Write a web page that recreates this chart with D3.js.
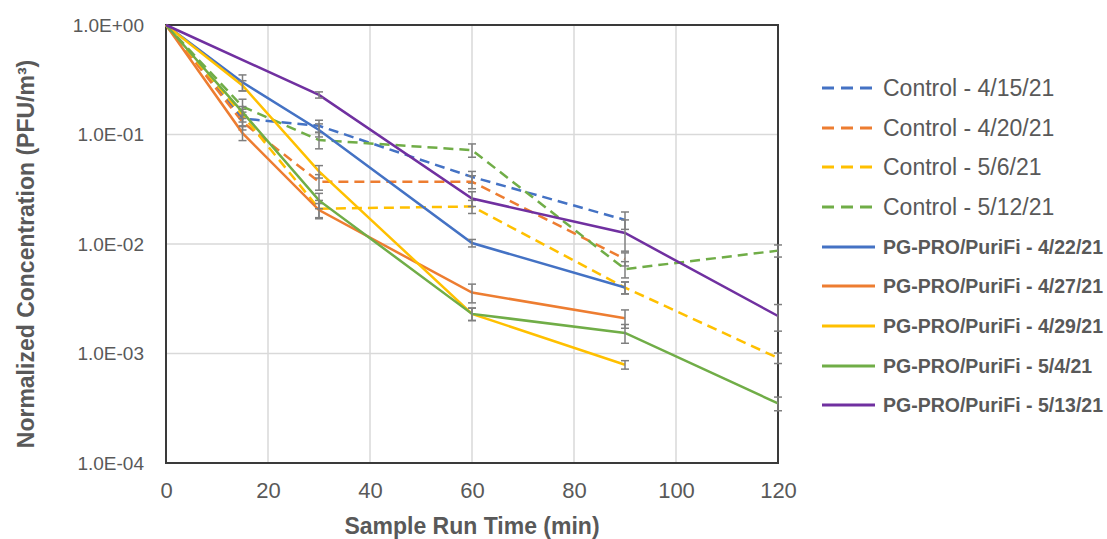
<!DOCTYPE html>
<html>
<head>
<meta charset="utf-8">
<script src="https://cdn.jsdelivr.net/npm/d3@7"></script>
<style>
  html, body { margin: 0; padding: 0; background: #ffffff; }
  svg { display: block; font-family: "Liberation Sans", Arial, sans-serif; }
</style>
</head>
<body>
<svg id="chart" width="1107" height="539"></svg>
<script>
// ---- data ----
const times = [0, 15, 30, 60, 90, 120];
const xTicks = [0, 20, 40, 60, 80, 100, 120];
const yTicks = [1, 0.1, 0.01, 0.001, 0.0001];
const yTickLabels = ["1.0E+00", "1.0E-01", "1.0E-02", "1.0E-03", "1.0E-04"];

const seriesNames = [
  "Control - 4/15/21", "Control - 4/20/21", "Control - 5/6/21", "Control - 5/12/21",
  "PG-PRO/PuriFi - 4/22/21", "PG-PRO/PuriFi - 4/27/21", "PG-PRO/PuriFi - 4/29/21",
  "PG-PRO/PuriFi - 5/4/21", "PG-PRO/PuriFi - 5/13/21"
];
const seriesColors = ["#4472C4", "#ED7D31", "#FFC000", "#70AD47", "#4472C4", "#ED7D31", "#FFC000", "#70AD47", "#7030A0"];
const seriesDashed = [true, true, true, true, false, false, false, false, false];

const ctrl0415 = [1, 0.14, 0.12, 0.041, 0.0166, null];
const ctrl0420 = [1, 0.13, 0.037, 0.037, 0.0073, null];
const ctrl0506 = [1, 0.15, 0.021, 0.022, 0.0040, 0.00091];
const ctrl0512 = [1, 0.18, 0.089, 0.072, 0.0059, 0.0087];
const pg0422 = [1, 0.30, 0.11, 0.0102, 0.0040, null];
const pg0427 = [1, 0.103, 0.0204, 0.0036, 0.0021, null];
const pg0429 = [1, 0.28, 0.046, 0.0023, 0.00079, null];
const pg0504 = [1, 0.16, 0.025, 0.0023, 0.00154, 0.00035];
const pg0513 = [1, null, 0.23, 0.026, 0.0126, 0.0022];

const err0415 = [0, 0.02, 0.015, 0.005, 0.003, null];
const err0420 = [0, 0.02, 0.006, 0.005, 0.001, null];
const err0506 = [0, 0.02, 0.004, 0.003, 0.0005, 0.0001];
const err0512 = [0, 0.03, 0.015, 0.01, 0.001, 0.0011];
const errPg0422 = [0, 0.05, 0.015, 0.0008, 0.0005, null];
const errPg0427 = [0, 0.015, 0.003, 0.0007, 0.0004, null];
const errPg0429 = [0, 0.03, 0.006, 0.0003, 0.00007, null];
const errPg0504 = [0, 0.02, 0.004, 0.0003, 0.0003, 0.00005];
const errPg0513 = [0, null, 0.015, 0.004, 0.004, 0.0006];

const seriesValues = [ctrl0415, ctrl0420, ctrl0506, ctrl0512, pg0422, pg0427, pg0429, pg0504, pg0513];
const seriesErrors = [err0415, err0420, err0506, err0512, errPg0422, errPg0427, errPg0429, errPg0504, errPg0513];

// ---- layout ----
const svg = d3.select("#chart");
const mL = 166, mR = 778, mT = 25, mB = 463;
const x = d3.scaleLinear().domain([0, 120]).range([mL, mR]);
const y = d3.scaleLog().domain([0.0001, 1]).range([mB, mT]);
const textColor = "#595959";

// gridlines
const grid = svg.append("g");
grid.selectAll("line.v").data(xTicks.slice(1, -1)).enter().append("line")
  .attr("x1", d => x(d)).attr("x2", d => x(d)).attr("y1", mT).attr("y2", mB)
  .attr("stroke", "#d9d9d9").attr("stroke-width", 1.5);
grid.selectAll("line.h").data(yTicks.slice(1, -1)).enter().append("line")
  .attr("x1", mL).attr("x2", mR).attr("y1", d => y(d)).attr("y2", d => y(d))
  .attr("stroke", "#d9d9d9").attr("stroke-width", 1.5);

// axes
const xAxis = d3.axisBottom(x).tickValues(xTicks).tickSize(0).tickPadding(19).tickFormat(d3.format("d"));
const gx = svg.append("g").attr("transform", `translate(0,${mB})`).call(xAxis);
gx.select(".domain").remove();
gx.selectAll("text").attr("fill", textColor).attr("font-size", 22).attr("font-family", "Liberation Sans, Arial, sans-serif");

const yAxis = d3.axisLeft(y).tickValues(yTicks).tickSize(0).tickPadding(22)
  .tickFormat((d, i) => yTickLabels[i]);
const gy = svg.append("g").attr("transform", `translate(${mL},0)`).call(yAxis);
gy.select(".domain").remove();
gy.selectAll("text").attr("fill", textColor).attr("font-size", 19).attr("font-family", "Liberation Sans, Arial, sans-serif");

// plot border
svg.append("rect").attr("x", mL).attr("y", mT).attr("width", mR - mL).attr("height", mB - mT)
  .attr("fill", "none").attr("stroke", "#3a3a3a").attr("stroke-width", 2);

// series
const line = d3.line().x(d => x(d.t)).y(d => y(d.v));
const plot = svg.append("g");
seriesValues.forEach((vals, si) => {
  const pts = times.map((t, i) => ({ t, v: vals[i], e: seriesErrors[si][i] })).filter(p => p.v != null);
  const g = plot.append("g");
  g.append("path").datum(pts).attr("d", line)
    .attr("fill", "none").attr("stroke", seriesColors[si]).attr("stroke-width", 2.5)
    .attr("stroke-dasharray", seriesDashed[si] ? "10,6" : null);
  const eb = g.selectAll("g.eb").data(pts.filter(p => p.e)).enter().append("g");
  eb.append("line").attr("x1", d => x(d.t)).attr("x2", d => x(d.t))
    .attr("y1", d => y(d.v + d.e)).attr("y2", d => y(Math.max(d.v - d.e, 1e-5)))
    .attr("stroke", "#7f7f7f").attr("stroke-width", 1.5);
  eb.append("line").attr("x1", d => x(d.t) - 4).attr("x2", d => x(d.t) + 4)
    .attr("y1", d => y(d.v + d.e)).attr("y2", d => y(d.v + d.e))
    .attr("stroke", "#7f7f7f").attr("stroke-width", 1.5);
  eb.append("line").attr("x1", d => x(d.t) - 4).attr("x2", d => x(d.t) + 4)
    .attr("y1", d => y(d.v - d.e)).attr("y2", d => y(d.v - d.e))
    .attr("stroke", "#7f7f7f").attr("stroke-width", 1.5);
});

// axis titles
svg.append("text").attr("x", (mL + mR) / 2).attr("y", 534).attr("text-anchor", "middle")
  .attr("font-size", 23).attr("font-weight", "bold").attr("fill", textColor)
  .text("Sample Run Time (min)");
svg.append("text").attr("transform", `translate(34,${(mT + mB) / 2 + 10}) rotate(-90)`)
  .attr("text-anchor", "middle").attr("font-size", 23).attr("font-weight", "bold").attr("fill", textColor)
  .text("Normalized Concentration (PFU/m³)");

// legend
const legendY = [88, 128, 167, 207, 247, 286, 326, 366, 405];
const legend = svg.append("g");
seriesNames.forEach((name, i) => {
  legend.append("line").attr("x1", 822).attr("x2", 875).attr("y1", legendY[i]).attr("y2", legendY[i])
    .attr("stroke", seriesColors[i]).attr("stroke-width", 3)
    .attr("stroke-dasharray", seriesDashed[i] ? "12,7" : null);
  legend.append("text").attr("x", 883).attr("y", legendY[i]).attr("dy", "0.35em")
    .attr("font-size", seriesDashed[i] ? 23 : 19.5).attr("font-weight", seriesDashed[i] ? "normal" : "bold")
    .attr("fill", textColor).text(name);
});
</script>
</body>
</html>
